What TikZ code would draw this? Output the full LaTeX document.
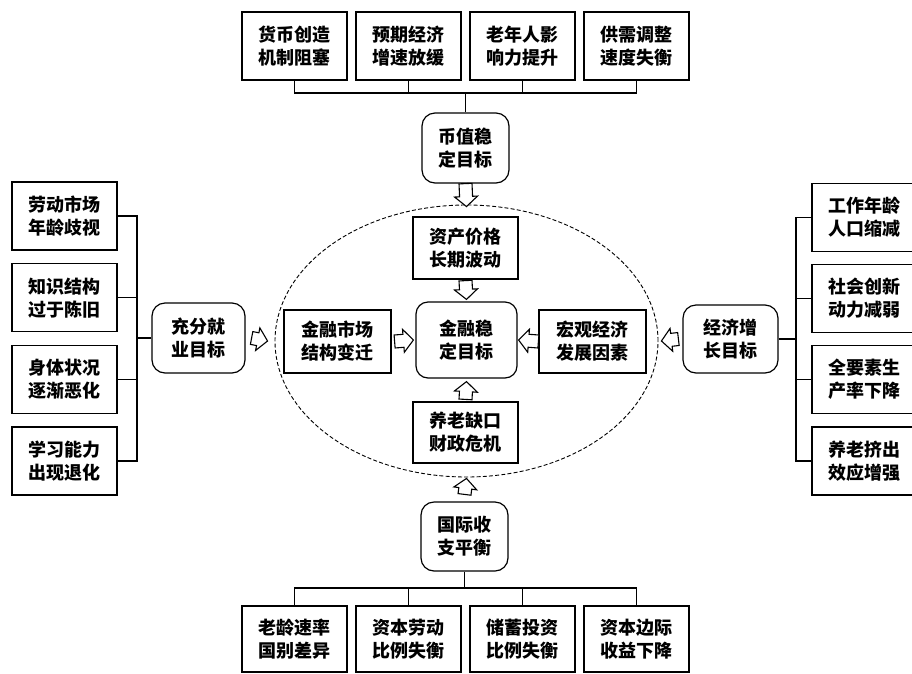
\documentclass[tikz,border=0pt]{standalone}
\usepackage{fontspec}
\setmainfont{Noto Sans CJK SC}
\usetikzlibrary{shapes.geometric,calc}
\newcommand\blkarrow[2]{%
\draw[blk] let \p1=(#1), \p2=(#2), \n1={veclen(\x2-\x1,\y2-\y1)}, \n2={(\x2-\x1)/\n1}, \n3={(\y2-\y1)/\n1} in
 ({\x1-6.5pt*\n3},{\y1+6.5pt*\n2}) -- ({\x2-10pt*\n2-6.5pt*\n3},{\y2-10pt*\n3+6.5pt*\n2}) -- ({\x2-10pt*\n2-11.5pt*\n3},{\y2-10pt*\n3+11.5pt*\n2}) -- (\p2) -- ({\x2-10pt*\n2+11.5pt*\n3},{\y2-10pt*\n3-11.5pt*\n2}) -- ({\x2-10pt*\n2+6.5pt*\n3},{\y2-10pt*\n3-6.5pt*\n2}) -- ({\x1+6.5pt*\n3},{\y1-6.5pt*\n2}) -- cycle;}
\tikzset{
  txt/.style={font=\bfseries\fontsize{18}{23}\selectfont, align=center, inner sep=0pt},
  sq/.style={txt, draw, line width=1.2pt, minimum width=105pt, minimum height=68pt},
  rnd/.style={txt, draw, line width=1.2pt, rounded corners=13pt},
  blk/.style={draw, line width=1.1pt, fill=white},
  ln/.style={line width=1.2pt},
}
\begin{document}
\begin{tikzpicture}[x=1pt,y=-1pt]
\useasboundingbox (0,0) rectangle (912,673);
% ellipse
\node[draw, dashed, dash pattern=on 4pt off 2.2pt, line width=0.9pt, ellipse, minimum width=383pt, minimum height=272pt, inner sep=0pt] (ell) at (466.5,341) {};
% top
\node[sq] (t1) at (294.5,46) {货币创造\\机制阻塞};
\node[sq] (t2) at (408.5,46) {预期经济\\增速放缓};
\node[sq] (t3) at (522.5,46) {老年人影\\响力提升};
\node[sq] (t4) at (636.5,46) {供需调整\\速度失衡};
\coordinate (topbus) at (465.5,93);
\node[rnd, minimum width=87pt, minimum height=70pt] (bz) at (465.5,148) {币值稳\\定目标};
\draw[ln] (t1.south) -- (t1.south |- topbus) -- (t4.south |- topbus) -- (t4.south);
\draw[ln] (t2.south) -- (t2.south |- topbus);
\draw[ln] (t3.south) -- (t3.south |- topbus);
\draw[ln] (bz.north) -- (bz.north |- topbus);
% left
\node[sq] (l1) at (64.5,216) {劳动市场\\年龄歧视};
\node[sq] (l2) at (64.5,297.7) {知识结构\\过于陈旧};
\node[sq] (l3) at (64.5,379.3) {身体状况\\逐渐恶化};
\node[sq] (l4) at (64.5,461) {学习能力\\出现退化};
\coordinate (lbus) at (137,338);
\node[rnd, minimum width=93pt, minimum height=70pt] (cf) at (198.5,338) {充分就\\业目标};
\draw[ln] (l1.east) -- (l1.east -| lbus) -- (l4.east -| lbus) -- (l4.east);
\draw[ln] (l2.east) -- (l2.east -| lbus);
\draw[ln] (l3.east) -- (l3.east -| lbus);
\draw[ln] (cf.west) -- (cf.west -| lbus);
% right
\node[sq] (r1) at (864.5,217.5) {工作年龄\\人口缩减};
\node[sq] (r2) at (864.5,298.5) {社会创新\\动力减弱};
\node[sq] (r3) at (864.5,379.5) {全要素生\\产率下降};
\node[sq] (r4) at (864.5,461) {养老挤出\\效应增强};
\coordinate (rbus) at (796,339);
\node[rnd, minimum width=95pt, minimum height=68pt] (jj) at (730.5,339) {经济增\\长目标};
\draw[ln] (r1.west) -- (r1.west -| rbus) -- (r4.west -| rbus) -- (r4.west);
\draw[ln] (r2.west) -- (r2.west -| rbus);
\draw[ln] (r3.west) -- (r3.west -| rbus);
\draw[ln] (jj.east) -- (jj.east -| rbus);
% bottom
\node[sq, minimum height=66pt] (b1) at (294.5,639) {老龄速率\\国别差异};
\node[sq, minimum height=66pt] (b2) at (408.5,639) {资本劳动\\比例失衡};
\node[sq, minimum height=66pt] (b3) at (522.5,639) {储蓄投资\\比例失衡};
\node[sq, minimum height=66pt] (b4) at (636.5,639) {资本边际\\收益下降};
\coordinate (botbus) at (464.5,588);
\node[rnd, minimum width=87pt, minimum height=69pt] (gj) at (464.5,536.5) {国际收\\支平衡};
\draw[ln] (b1.north) -- (b1.north |- botbus) -- (b4.north |- botbus) -- (b4.north);
\draw[ln] (b2.north) -- (b2.north |- botbus);
\draw[ln] (b3.north) -- (b3.north |- botbus);
\draw[ln] (gj.south) -- (gj.south |- botbus);
% center
\node[rnd, minimum width=101pt, minimum height=76pt, rounded corners=12pt] (jr) at (466.5,340) {金融稳\\定目标};
\node[sq, minimum height=62pt] (zc) at (465.5,248) {资产价格\\长期波动};
\node[sq, minimum width=107pt, minimum height=63pt] (sc) at (337.5,341.5) {金融市场\\结构变迁};
\node[sq, minimum width=107pt, minimum height=63pt] (hg) at (592.5,341.5) {宏观经济\\发展因素};
\node[sq, minimum height=61pt] (yl) at (465.5,432.5) {养老缺口\\财政危机};
% block arrows
\blkarrow{$(zc.south)+(0,1)$}{$(jr.north)+(0,-2)$}
\blkarrow{$(sc.east)+(3,0)$}{$(jr.west)+(-2,0)$}
\blkarrow{$(hg.west)+(0,0)$}{$(jr.east)+(1,0)$}
\blkarrow{$(yl.north)+(0,-2)$}{$(jr.south)+(0,3)$}
\blkarrow{$(bz.south)$}{$(ell.north)+(0,2)$}
\blkarrow{$(cf.east)+(6,0)$}{$(ell.west)+(-7,0)$}
\blkarrow{$(jj.west)+(-4,0)$}{$(ell.east)+(3,0)$}
\blkarrow{$(gj.north)+(0,-7)$}{$(ell.south)+(0,1)$}
\end{tikzpicture}
\end{document}
